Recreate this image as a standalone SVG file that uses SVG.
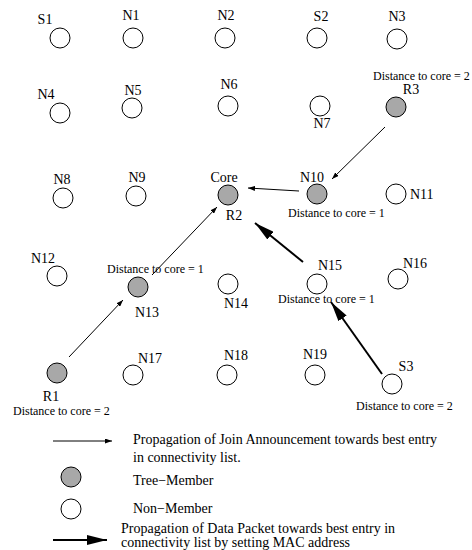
<svg xmlns="http://www.w3.org/2000/svg" width="472" height="550" viewBox="0 0 472 550">
<style>
text{font-family:"Liberation Serif","Times New Roman",serif;fill:#000}
.lb{font-size:14px;text-anchor:middle}
.ls{font-size:14px}
.d{font-size:12px}
.n{fill:#fff;stroke:#000;stroke-width:1}
.m{fill:#a8a8a8;stroke:#000;stroke-width:1}
.thin{stroke:#000;stroke-width:1;fill:none;marker-end:url(#ah)}
.thick{stroke:#000;stroke-width:2;fill:none;marker-end:url(#ahb)}
</style>
<defs>
<marker id="ah" markerUnits="userSpaceOnUse" markerWidth="7" markerHeight="5" refX="7" refY="2.5" orient="auto"><path d="M0,0 L7,2.5 L0,5 z" fill="#000"/></marker>
<marker id="ahb" markerUnits="userSpaceOnUse" markerWidth="20" markerHeight="10" refX="20" refY="5" orient="auto"><path d="M0,0 L20,5 L0,10 z" fill="#000"/></marker>
</defs>
<rect width="472" height="550" fill="#fff"/>
<g id="S1"><circle class="n" cx="60" cy="38" r="10"/><text class="lb" x="45" y="24">S1</text></g>
<g id="N1"><circle class="n" cx="133" cy="38" r="10"/><text class="lb" x="131" y="20">N1</text></g>
<g id="N2"><circle class="n" cx="225" cy="38" r="10"/><text class="lb" x="226" y="20">N2</text></g>
<g id="S2"><circle class="n" cx="317" cy="38" r="10"/><text class="lb" x="321" y="21">S2</text></g>
<g id="N3"><circle class="n" cx="397" cy="39" r="10"/><text class="lb" x="397" y="21">N3</text></g>
<g id="N4"><circle class="n" cx="60" cy="113" r="10"/><text class="lb" x="46" y="99">N4</text></g>
<g id="N5"><circle class="n" cx="132" cy="108" r="10"/><text class="lb" x="133" y="95">N5</text></g>
<g id="N6"><circle class="n" cx="228" cy="106" r="10"/><text class="lb" x="229" y="89">N6</text></g>
<g id="N7"><circle class="n" cx="320" cy="106" r="10"/><text class="lb" x="322" y="128">N7</text></g>
<g id="R3"><circle class="m" cx="396" cy="107" r="10"/><text class="lb" x="411" y="94">R3</text><text class="d" x="373" y="80">Distance to core = 2</text></g>
<g id="N8"><circle class="n" cx="63" cy="198" r="10"/><text class="lb" x="62" y="184">N8</text></g>
<g id="N9"><circle class="n" cx="136" cy="196" r="10"/><text class="lb" x="137" y="182">N9</text></g>
<g id="Core"><circle class="m" cx="228" cy="195" r="10"/><text class="lb" x="224" y="182">Core</text><text class="lb" x="234" y="220">R2</text></g>
<g id="N10"><circle class="m" cx="317" cy="194" r="10"/><text class="lb" x="312" y="182">N10</text><text class="d" x="288" y="217">Distance to core = 1</text></g>
<g id="N11"><circle class="n" cx="396" cy="194" r="10"/><text class="ls" x="410" y="199">N11</text></g>
<g id="N12"><circle class="n" cx="57" cy="276" r="10"/><text class="lb" x="43" y="263">N12</text></g>
<g id="N13"><circle class="m" cx="138" cy="287" r="10"/><text class="lb" x="147" y="317">N13</text><text class="d" x="107" y="273">Distance to core = 1</text></g>
<g id="N14"><circle class="n" cx="228" cy="284" r="10"/><text class="lb" x="236" y="308">N14</text></g>
<g id="N15"><circle class="n" cx="317" cy="284" r="10"/><text class="lb" x="330" y="270">N15</text><text class="d" x="278" y="303">Distance to core = 1</text></g>
<g id="N16"><circle class="n" cx="398" cy="279" r="10"/><text class="lb" x="415" y="268">N16</text></g>
<g id="R1"><circle class="m" cx="57" cy="373" r="10"/><text class="lb" x="51" y="401">R1</text><text class="d" x="13" y="415">Distance to core = 2</text></g>
<g id="N17"><circle class="n" cx="133" cy="375" r="10"/><text class="lb" x="150" y="363">N17</text></g>
<g id="N18"><circle class="n" cx="227" cy="375" r="10"/><text class="lb" x="236" y="360">N18</text></g>
<g id="N19"><circle class="n" cx="315" cy="375" r="10"/><text class="lb" x="315" y="359">N19</text></g>
<g id="S3"><circle class="n" cx="392" cy="384" r="10"/><text class="lb" x="406" y="371">S3</text><text class="d" x="356" y="410">Distance to core = 2</text></g>
<g id="connectors">
<path class="thin" d="M385,127 L332,179"/>
<path class="thin" d="M299,191 L248,188"/>
<path class="thin" d="M152,275 L217,207"/>
<path class="thin" d="M69,357 L123,300"/>
<path class="thick" d="M303,262 L255,223"/>
<path class="thick" d="M382,374 L331,302"/>
</g>
<g id="legend">
<path class="thin" d="M53,441 L112,441"/>
<text class="ls" x="133" y="444">Propagation of Join Announcement towards best entry</text>
<text class="ls" x="133" y="462">in connectivity list.</text>
<circle class="m" cx="71" cy="477" r="10"/>
<text class="ls" x="133" y="485">Tree−Member</text>
<circle class="n" cx="71" cy="509" r="10"/>
<text class="ls" x="133" y="513">Non−Member</text>
<path class="thick" d="M53,540 L107,540"/>
<text class="ls" x="121" y="533">Propagation of Data Packet towards best entry in</text>
<text class="ls" x="121" y="547">connectivity list by setting MAC address</text>
</g>
</svg>
